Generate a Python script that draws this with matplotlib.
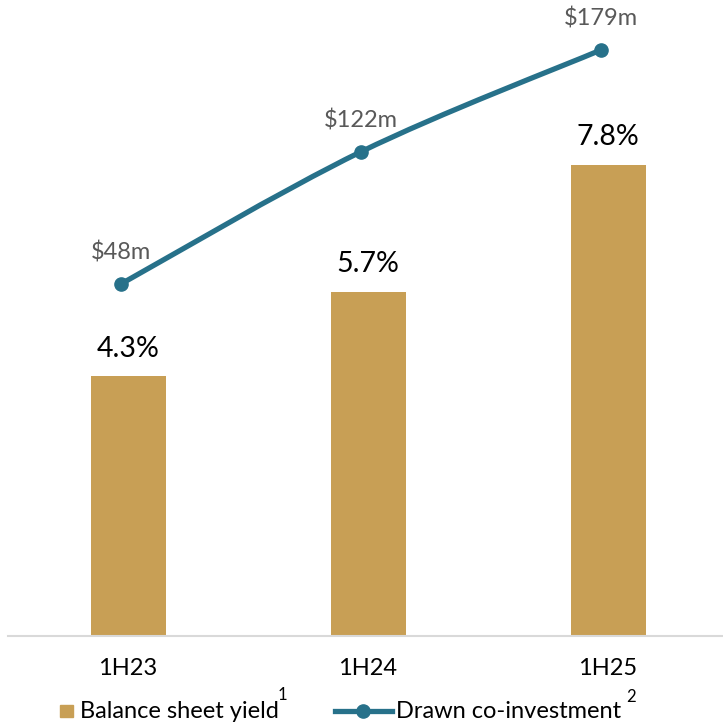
import matplotlib.pyplot as plt
from matplotlib.path import Path
from matplotlib.patches import PathPatch, Rectangle
from matplotlib.lines import Line2D
import numpy as np

plt.rcParams['font.family'] = ['Lato', 'DejaVu Sans']

# data
periods = ['1H23', '1H24', '1H25']
yield_pct = [4.3, 5.7, 7.8]
coinvest_m = [48, 122, 179]
pct_labels = ['4.3%', '5.7%', '7.8%']
m_labels = ['$48m', '$122m', '$179m']

bar_col = '#C89F55'
line_col = '#27718A'
lab_col = '#595959'

W = 723
fig = plt.figure(figsize=(7.23, 7.23), dpi=100)
ax = fig.add_axes([8 / W, 87 / W, 720 / W, 636 / W])
x = np.arange(len(periods))

bars = ax.bar(x, yield_pct, width=0.3125, color=bar_col, zorder=2)
ax.set_xlim(-0.5, 2.5)
ax.set_ylim(0, 10.53)
for xi, v, t in zip(x, yield_pct, pct_labels):
    ax.annotate(t, (xi, v), xytext=(0, 20), textcoords='offset points',
                ha='center', va='center', fontsize=20.5, color='black')

for s in ['top', 'right', 'left']:
    ax.spines[s].set_visible(False)
ax.spines['bottom'].set_color('#D9D9D9')
ax.spines['bottom'].set_linewidth(1.5)
ax.set_yticks([])
ax.set_xticks(x)
ax.set_xticklabels(periods, fontsize=17)
ax.tick_params(axis='x', length=0, pad=16)

# secondary axis for the line (points sit slightly left of bar centres)
ax2 = ax.twinx()
ax2.set_ylim(-149, 207)
ax2.set_yticks([])
for s in ax2.spines.values():
    s.set_visible(False)
xl = x - 0.03

# smooth curve through the points (Catmull-Rom style bezier)
pts = np.column_stack([xl, coinvest_m]).astype(float)
verts = [pts[0]]
codes = [Path.MOVETO]
for i in range(len(pts) - 1):
    p0 = pts[i - 1] if i > 0 else pts[i]
    p1, p2 = pts[i], pts[i + 1]
    p3 = pts[i + 2] if i + 2 < len(pts) else pts[i + 1]
    c1 = p1 + (p2 - p0) / 6
    c2 = p2 - (p3 - p1) / 6
    verts += [c1, c2, p2]
    codes += [Path.CURVE4] * 3
ax2.add_patch(PathPatch(Path(verts, codes), fill=False, edgecolor=line_col,
                        lw=3.8, capstyle='round', zorder=3))
ax2.plot(xl, coinvest_m, linestyle='none', marker='o', ms=9.5,
         color=line_col, zorder=4)
for xi, v, t in zip(xl, coinvest_m, m_labels):
    ax2.annotate(t, (xi, v), xytext=(0, 22.5), textcoords='offset points',
                 ha='center', va='center', fontsize=17, color=lab_col)

# legend, drawn by hand
fig.patches.append(Rectangle((60 / W, 6 / W), 13 / W, 12 / W,
                             transform=fig.transFigure, color=bar_col))
fig.text(80 / W, 5 / W, 'Balance sheet yield', fontsize=17, va='baseline')
fig.text(278 / W, 23 / W, '1', fontsize=12, va='baseline')
fig.lines.append(Line2D([335 / W, 392 / W], [12 / W, 12 / W],
                        transform=fig.transFigure, color=line_col, lw=3.8))
fig.lines.append(Line2D([363 / W], [12 / W], transform=fig.transFigure,
                        color=line_col, marker='o', ms=9.5))
fig.text(396 / W, 5 / W, 'Drawn co-investment', fontsize=17, va='baseline')
fig.text(626 / W, 21 / W, '2', fontsize=12, va='baseline')

fig.savefig('out.png', dpi=100)
